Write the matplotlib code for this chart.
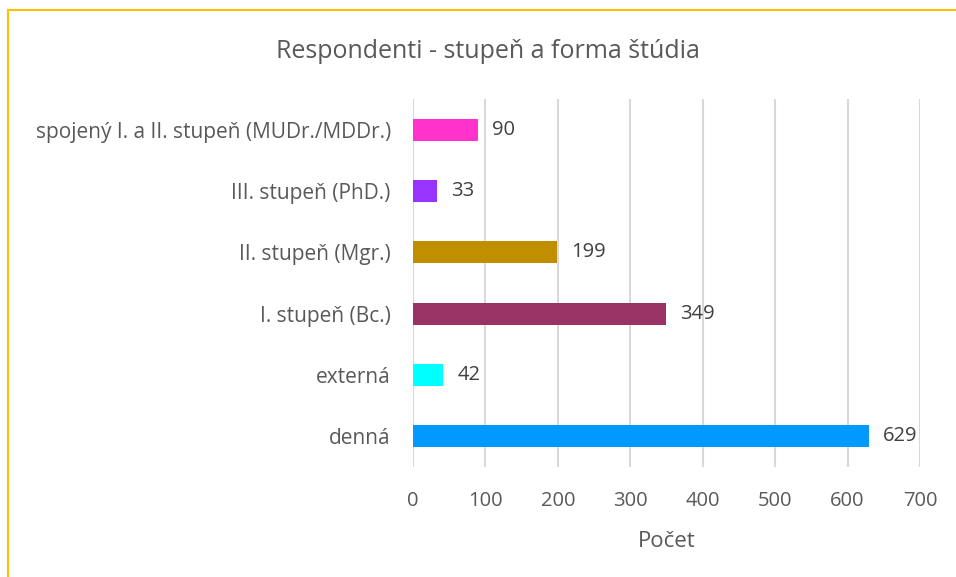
import matplotlib
matplotlib.use("Agg")
import matplotlib.pyplot as plt
from matplotlib.lines import Line2D

categories = ["denná", "externá", "I. stupeň (Bc.)", "II. stupeň (Mgr.)",
              "III. stupeň (PhD.)", "spojený I. a II. stupeň (MUDr./MDDr.)"]
values = [629, 42, 349, 199, 33, 90]
colors = ["#0099FF", "#00FFFF", "#993366", "#BF8F00", "#9933FF", "#FF33CC"]
xticks = [0, 100, 200, 300, 400, 500, 600, 700]
title = "Respondenti - stupeň a forma štúdia"
xlabel = "Počet"

plt.rcParams['font.family'] = ['Open Sans', 'DejaVu Sans']
txt = "#595959"

fig = plt.figure(figsize=(9.56, 5.77), dpi=100)
ax = fig.add_axes([413/956, 1-467/577, (920-413)/956, (467-99)/577])

y = list(range(len(categories)))
ax.barh(y, values, height=0.36, color=colors, zorder=3)
for yi, v in zip(y, values):
    ax.annotate(str(v), (v, yi), xytext=(10, 0), textcoords="offset points",
                va="center", ha="left", fontsize=14.5, color="#404040")

ax.set_xlim(0, 700)
ax.set_ylim(-0.5, len(categories) - 0.5)
ax.set_xticks(xticks)
ax.set_yticks(y)
ax.set_yticklabels(categories)
ax.tick_params(length=0, labelsize=14.5, labelcolor=txt)
ax.tick_params(axis='y', pad=16, labelsize=15)
ax.tick_params(axis='x', pad=17)
ax.grid(axis='x', color="#D9D9D9", linewidth=1.5, zorder=0)
for s in ax.spines.values():
    s.set_visible(False)
ax.set_xlabel(xlabel, fontsize=16, color=txt, labelpad=15)

fig.text(0.51, 1-52/577, title, ha="center", va="center", fontsize=18, color=txt)

# border
fig.add_artist(Line2D([8/956, 8/956], [0, 1-10/577], transform=fig.transFigure,
                      color="#FFC000", linewidth=1.5))
fig.add_artist(Line2D([8/956, 1], [1-10/577, 1-10/577], transform=fig.transFigure,
                      color="#FFC000", linewidth=1.5))

fig.savefig("out.png", dpi=100, facecolor="white")
